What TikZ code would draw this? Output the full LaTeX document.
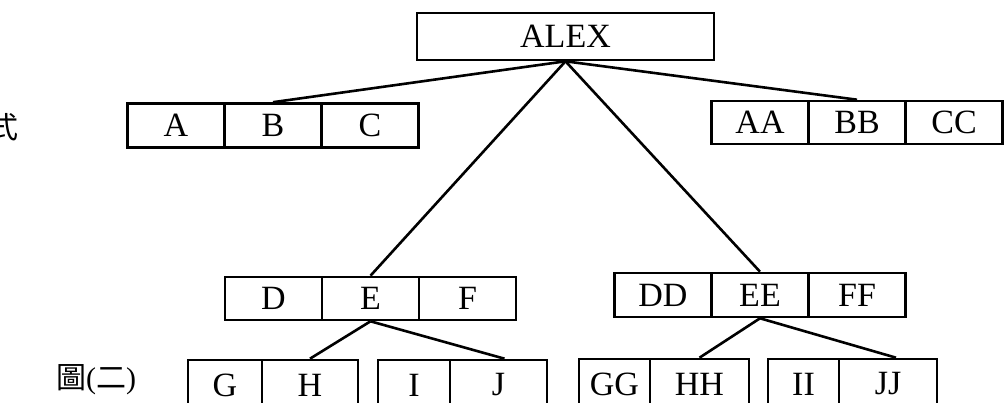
\documentclass[tikz,border=0pt]{standalone}
\usepackage{fontspec}
\setmainfont{Liberation Serif}
\newfontfamily\cjk{Noto Sans CJK TC}
\usetikzlibrary{positioning}

\begin{document}
\begin{tikzpicture}[-,x=1pt,y=-1pt,node distance=97pt,line width=2.6pt,
      cell node/.style={rectangle,draw,inner sep=0pt,minimum width=97pt,
        minimum height=44pt,font=\fontsize{34}{40}\selectfont},
      low node/.style={cell node,minimum height=50pt},
      other node/.style={inner sep=0pt,font=\fontsize{30}{36}\selectfont}]
    \useasboundingbox (0,0) rectangle (1005,403);

        % root
        \node[cell node,minimum width=297pt,minimum height=47pt] (alex) at (565.5,36.5) {ALEX};

        % second level
        \node[cell node] (a) at (176,125.5) {A};
        \node[cell node] (b) [right of=a] {B};
        \node[cell node] (c) [right of=b] {C};
        \node[cell node,minimum height=43pt] (aa) at (760,122.5) {AA};
        \node[cell node,minimum height=43pt] (bb) [right of=aa] {BB};
        \node[cell node,minimum height=43pt] (cc) [right of=bb] {CC};

        % third level
        \node[cell node,minimum height=43pt] (d) at (273.5,298.5) {D};
        \node[cell node,minimum height=43pt] (e) [right of=d] {E};
        \node[cell node,minimum height=43pt] (f) [right of=e] {F};
        \node[cell node,minimum height=44pt] (dd) at (663,295) {DD};
        \node[cell node,minimum height=44pt] (ee) [right of=dd] {EE};
        \node[cell node,minimum height=44pt] (ff) [right of=ee] {FF};

        % leaves
        \node[low node,minimum width=74pt] (g) at (225,385) {G};
        \node[low node,minimum width=96pt] (h) [right of=g,node distance=85pt] {H};
        \node[low node,minimum width=72pt] (i) at (414,385) {I};
        \node[low node,minimum width=97pt] (j) [right of=i,node distance=84.5pt] {J};
        \node[low node,minimum width=71pt] (gg) at (614.5,384) {GG};
        \node[low node,minimum width=99pt] (hh) [right of=gg,node distance=85pt] {HH};
        \node[low node,minimum width=71pt] (ii) at (803.5,384) {II};
        \node[low node,minimum width=98pt] (jj) [right of=ii,node distance=84.5pt] {JJ};

        \node[other node] (side) at (3,127) {\cjk 式};
        \node[other node] (cap) at (96,380) {{\cjk 圖}({\cjk 二})};

        \path
            (alex.south) edge (b.north)
            (alex.south) edge (bb.north)
            (alex.south) edge (e.north)
            (alex.south) edge (ee.north)
            (e.south) edge (h.north)
            (e.south) edge ([xshift=6pt]j.north)
            (ee.south) edge (hh.north)
            (ee.south) edge ([xshift=8pt]jj.north)
        ;
    \end{tikzpicture}
\end{document}
